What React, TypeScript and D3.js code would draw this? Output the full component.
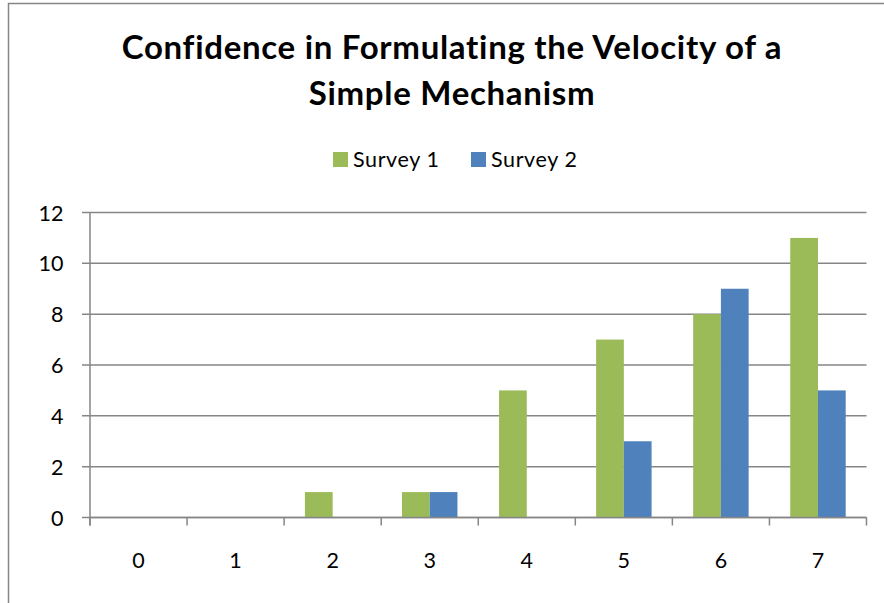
import React from "react";
import * as d3 from "d3";

const categories = ["0", "1", "2", "3", "4", "5", "6", "7"];
const series1 = [0, 0, 1, 1, 5, 7, 8, 11];
const series2 = [0, 0, 0, 1, 0, 3, 9, 5];
const seriesNames = ["Survey 1", "Survey 2"];
const seriesColors = ["#9BBB59", "#4F81BD"];
const yTicks = [0, 2, 4, 6, 8, 10, 12];
const titleLines = ["Confidence in Formulating the Velocity of a", "Simple Mechanism"];

const W = 884;
const H = 603;
const FONT = "Lato, 'Open Sans', sans-serif";
const AXIS = "#868686";

export default function App() {
  const plot = { left: 90, right: 866.5, top: 212.5, bottom: 517.5 };
  const x = d3.scaleBand<string>().domain(categories).range([plot.left, plot.right]).paddingInner(0).paddingOuter(0);
  const bw = x.bandwidth() / 3.5;
  const y = d3.scaleLinear().domain([0, 12]).range([plot.bottom, plot.top]);
  const data = [series1, series2];

  return (
    <svg width={W} height={H} style={{ position: "absolute", left: 0, top: 0 }} xmlns="http://www.w3.org/2000/svg">
      <rect x={0} y={0} width={W} height={H} fill="#fff" />
      <rect x={8.5} y={3.5} width={W + 10} height={H + 10} fill="none" stroke={AXIS} strokeWidth={1.5} />
      {titleLines.map((t, i) => (
        <text key={i} x={452} y={58.5 + i * 46.5} textAnchor="middle" fontFamily={FONT} fontWeight="bold" fontSize={33} letterSpacing={0.7} fill="#000">
          {t}
        </text>
      ))}
      {/* legend */}
      {seriesNames.map((n, i) => {
        const lx = i === 0 ? 333 : 471;
        return (
          <g key={n}>
            <rect x={lx} y={152} width={15} height={15} fill={seriesColors[i]} />
            <text x={lx + 20} y={167} fontFamily={FONT} fontSize={21.5} letterSpacing={0.6} fill="#000">
              {n}
            </text>
          </g>
        );
      })}
      {/* gridlines */}
      {yTicks.map((t) => (
        <g key={t}>
          <line x1={plot.left - 8} x2={plot.right} y1={y(t)} y2={y(t)} stroke={AXIS} strokeWidth={1.5} />
          <text x={63.5} y={y(t) + 8} textAnchor="end" fontFamily={FONT} fontSize={21.5} fill="#000">
            {t}
          </text>
        </g>
      ))}
      <line x1={plot.left} x2={plot.left} y1={plot.top} y2={plot.bottom + 8} stroke={AXIS} strokeWidth={1.5} />
      {/* bars */}
      {data.map((s, si) =>
        s.map((v, ci) => {
          const x0 = (x(categories[ci]) as number) + x.bandwidth() / 2 - bw + si * bw;
          return v > 0 ? (
            <rect key={`${si}-${ci}`} x={x0} y={y(v)} width={bw} height={y(0) - y(v)} fill={seriesColors[si]} />
          ) : null;
        })
      )}
      {/* x axis */}
      <line x1={plot.left} x2={plot.right} y1={plot.bottom} y2={plot.bottom} stroke={AXIS} strokeWidth={1.5} />
      {categories.map((c, i) => (
        <line key={`t${i}`} x1={(x(c) as number)} x2={(x(c) as number)} y1={plot.bottom} y2={plot.bottom + 8} stroke={AXIS} strokeWidth={1.5} />
      ))}
      <line x1={plot.right} x2={plot.right} y1={plot.bottom} y2={plot.bottom + 8} stroke={AXIS} strokeWidth={1.5} />
      {categories.map((c) => (
        <text key={`l${c}`} x={(x(c) as number) + x.bandwidth() / 2} y={568} textAnchor="middle" fontFamily={FONT} fontSize={21.5} fill="#000">
          {c}
        </text>
      ))}
    </svg>
  );
}
